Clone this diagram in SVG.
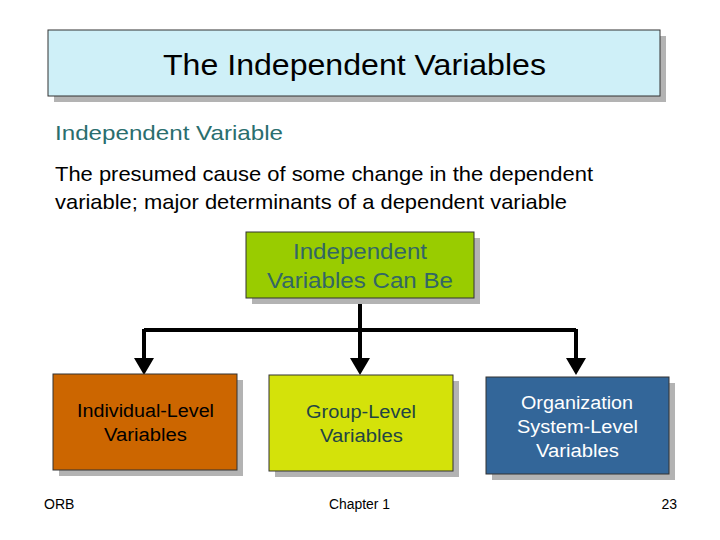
<svg xmlns="http://www.w3.org/2000/svg" width="720" height="540" viewBox="0 0 720 540">
<style>
.sh{fill:#b3b3b3}
.bx{stroke:#333;stroke-width:1}
text{font-family:"Liberation Sans",Arial,sans-serif}
.c{stroke:#000;stroke-width:4;fill:none}
</style>
<rect width="720" height="540" fill="#fff"/>
<g id="title"><rect class="sh" x="54" y="36" width="612" height="66"/><rect class="bx" x="48" y="30" width="612" height="66" fill="#cff0f8"/>
<text x="163" y="75" font-size="30" textLength="383" lengthAdjust="spacingAndGlyphs">The Independent Variables</text></g>
<text x="55" y="140" font-size="21" fill="#2a6e6e" textLength="228" lengthAdjust="spacingAndGlyphs">Independent Variable</text>
<text x="55" y="181" font-size="21" textLength="538" lengthAdjust="spacingAndGlyphs">The presumed cause of some change in the dependent</text>
<text x="55" y="209" font-size="21" textLength="512" lengthAdjust="spacingAndGlyphs">variable; major determinants of a dependent variable</text>
<g id="connectors">
<path class="c" d="M360,298 V330 M144,330 H576"/>
<path class="c" d="M144,329 V360 M360,329 V360 M576,329 V360"/>
<path d="M134,358 H154 L144,375 z M350,358 H370 L360,375 z M566,358 H586 L576,375 z" fill="#000"/>
</g>
<g id="root"><rect class="sh" x="252" y="238" width="228" height="66"/><rect class="bx" x="246" y="232" width="228" height="66" fill="#99cc00"/>
<text x="293" y="259" font-size="22" fill="#336666" textLength="134" lengthAdjust="spacingAndGlyphs">Independent</text>
<text x="267" y="288" font-size="22" fill="#336666" textLength="186" lengthAdjust="spacingAndGlyphs">Variables Can Be</text></g>
<g id="n1"><rect class="sh" x="59" y="380" width="184" height="96"/><rect class="bx" x="53" y="374" width="184" height="96" fill="#cc6600"/>
<text x="77" y="417" font-size="18" textLength="137" lengthAdjust="spacingAndGlyphs">Individual-Level</text>
<text x="104" y="441" font-size="18" textLength="83" lengthAdjust="spacingAndGlyphs">Variables</text></g>
<g id="n2"><rect class="sh" x="275" y="381" width="184" height="96"/><rect class="bx" x="269" y="375" width="184" height="96" fill="#d4e20a"/>
<text x="306" y="418" font-size="18" fill="#224444" textLength="110" lengthAdjust="spacingAndGlyphs">Group-Level</text>
<text x="320" y="442" font-size="18" fill="#224444" textLength="83" lengthAdjust="spacingAndGlyphs">Variables</text></g>
<g id="n3"><rect class="sh" x="492" y="383" width="183" height="97"/><rect class="bx" x="486" y="377" width="183" height="97" fill="#336699"/>
<text x="521" y="409" font-size="18" fill="#fff" textLength="112" lengthAdjust="spacingAndGlyphs">Organization</text>
<text x="517" y="433" font-size="18" fill="#fff" textLength="121" lengthAdjust="spacingAndGlyphs">System-Level</text>
<text x="536" y="457" font-size="18" fill="#fff" textLength="83" lengthAdjust="spacingAndGlyphs">Variables</text></g>
<text x="44" y="509" font-size="14">ORB</text>
<text x="329" y="509" font-size="14" textLength="61" lengthAdjust="spacingAndGlyphs">Chapter 1</text>
<text x="677" y="509" font-size="14" text-anchor="end">23</text>
</svg>
